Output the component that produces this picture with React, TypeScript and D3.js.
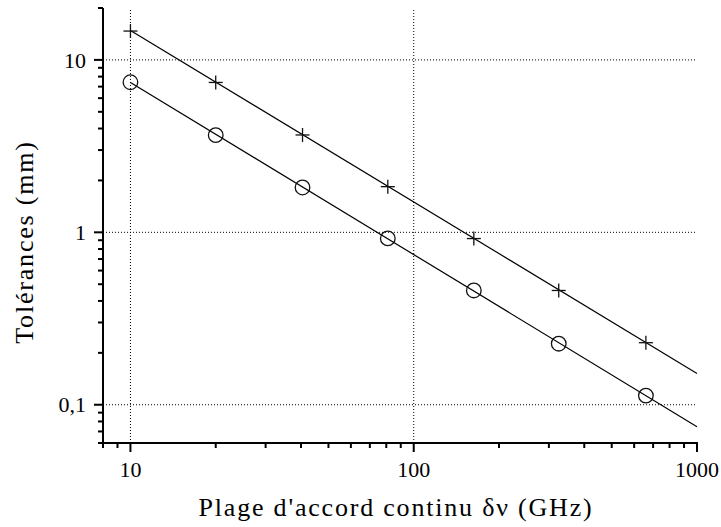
import * as React from 'react';
import * as d3 from 'd3';

// measured points (delta nu in GHz, tolerances in mm)
const deltaNu = [10, 20, 40.5, 81, 163, 325, 660];
const tolPlus = [14.7, 7.4, 3.67, 1.84, 0.92, 0.46, 0.229];
const tolCircle = [7.42, 3.66, 1.82, 0.922, 0.46, 0.226, 0.113];

// fitted lines, from x = 10 to x = 1000
const fitX = [10, 1000];
const fitPlus = [14.8, 0.152];
const fitCircle = [7.4, 0.0746];

const xMajor = [10, 100, 1000];
const xMajorLabels = ['10', '100', '1000'];
const yMajor = [0.1, 1, 10];
const yMajorLabels = ['0,1', '1', '10'];

const W = 721;
const H = 527;
const font = '"Liberation Serif", "Times New Roman", serif';

export default function App() {
  const x = d3.scaleLog().domain([8, 1000]).range([103, 697]);
  const y = d3.scaleLog().domain([0.06, 20]).range([443, 8]);

  const xMinor = x.ticks().filter((t) => !xMajor.includes(t));
  const yMinor = y.ticks().filter((t) => !yMajor.some((m) => Math.abs(m - t) < 1e-9));

  const line = d3
    .line<number>()
    .x((d, i) => x(fitX[i]))
    .y((d) => y(d));

  const [x0, x1] = x.range();
  const [yb, yt] = y.range();

  return (
    <svg
      width={W}
      height={H}
      style={{ position: 'absolute', left: 0, top: 0, background: '#fff' }}
      fontFamily={font}
    >
      {/* grid */}
      <g stroke="#000" strokeWidth={1} strokeDasharray="1,2">
        {xMajor
          .filter((t) => t < 1000)
          .map((t) => (
            <line key={'gx' + t} x1={x(t)} x2={x(t)} y1={yb} y2={yt} />
          ))}
        {yMajor.map((t) => (
          <line key={'gy' + t} x1={x0} x2={x1} y1={y(t)} y2={y(t)} />
        ))}
      </g>

      {/* fits */}
      <path d={line(fitPlus) || ''} fill="none" stroke="#000" strokeWidth={1.2} />
      <path d={line(fitCircle) || ''} fill="none" stroke="#000" strokeWidth={1.2} />

      {/* markers */}
      <g stroke="#111" strokeWidth={1.3} fill="none">
        {deltaNu.map((d, i) => (
          <g key={'p' + i} transform={`translate(${x(d)},${y(tolPlus[i])})`}>
            <line x1={-7} x2={7} y1={0} y2={0} />
            <line x1={0} x2={0} y1={-7} y2={7} />
          </g>
        ))}
        {deltaNu.map((d, i) => (
          <circle key={'c' + i} cx={x(d)} cy={y(tolCircle[i])} r={7.3} />
        ))}
      </g>

      {/* axes */}
      <g stroke="#000" strokeWidth={2}>
        <line x1={x0 - 1} x2={x1 + 1} y1={yb} y2={yb} />
        <line x1={x0} x2={x0} y1={yb + 1} y2={yt} />
        {xMajor.map((t) => (
          <line key={'xt' + t} x1={x(t)} x2={x(t)} y1={yb} y2={yb + 9} />
        ))}
        {xMinor.map((t) => (
          <line key={'xm' + t} x1={x(t)} x2={x(t)} y1={yb} y2={yb + 5} />
        ))}
        {yMajor.map((t) => (
          <line key={'yt' + t} x1={x0} x2={x0 - 9} y1={y(t)} y2={y(t)} />
        ))}
        {yMinor.map((t) => (
          <line key={'ym' + t} x1={x0} x2={x0 - 5} y1={y(t)} y2={y(t)} />
        ))}
      </g>

      {/* tick labels */}
      <g fontSize={22} fill="#000">
        {xMajor.map((t, i) => (
          <text key={'xl' + t} x={x(t)} y={477} textAnchor="middle">
            {xMajorLabels[i]}
          </text>
        ))}
        {yMajor.map((t, i) => (
          <text key={'yl' + t} x={86} y={y(t)} dy="0.35em" textAnchor="end">
            {yMajorLabels[i]}
          </text>
        ))}
      </g>

      {/* axis titles */}
      <text x={396} y={516} fontSize={26} letterSpacing={1.8} textAnchor="middle">
        Plage d'accord continu δν (GHz)
      </text>
      <text
        transform="translate(33,242) rotate(-90)"
        fontSize={26}
        letterSpacing={1.8}
        textAnchor="middle"
      >
        Tolérances (mm)
      </text>
    </svg>
  );
}
